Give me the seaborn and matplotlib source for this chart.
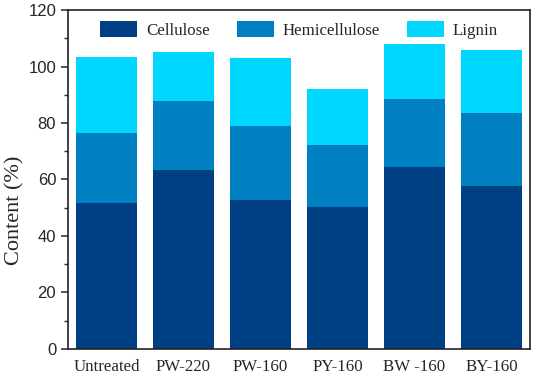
import numpy as np
import pandas as pd
import seaborn as sns
import matplotlib.pyplot as plt
from matplotlib.ticker import MultipleLocator

samples = ['Untreated', 'PW-220', 'PW-160', 'PY-160', 'BW -160', 'BY-160']
cellulose = [51.7, 63.4, 52.7, 50.4, 64.4, 57.8]
hemicellulose = [24.9, 24.3, 26.2, 21.7, 24.1, 25.8]
lignin = [26.7, 17.3, 24.2, 19.9, 19.4, 22.2]

components = ['Cellulose', 'Hemicellulose', 'Lignin']
colors = ['#013F84', '#0080C0', '#00D7FF']

df = pd.DataFrame({'sample': samples, 'Cellulose': cellulose,
                   'Hemicellulose': hemicellulose, 'Lignin': lignin})

sns.set_style('ticks')
plt.rcParams['font.family'] = ['Liberation Serif', 'DejaVu Serif']

fig = plt.figure(figsize=(5.33, 3.79), dpi=100)
ax = fig.add_axes([0.1276, 0.0792, 0.8668, 0.8944])

# stacked bars
bottom = np.zeros(len(samples))
for comp, col in zip(components, colors):
    sns.barplot(data=df, x='sample', y=comp, color=col, bottom=bottom,
                width=0.8, ax=ax, label=comp, saturation=1, linewidth=0)
    bottom = bottom + df[comp].values

ax.set_xlim(-0.5, 5.5)
ax.set_ylim(0, 120)
ax.yaxis.set_major_locator(MultipleLocator(20))
ax.yaxis.set_minor_locator(MultipleLocator(10))
ax.set_xlabel('')
ax.set_ylabel('Content (%)', fontsize=16)
ax.yaxis.set_label_coords(-0.095, 0.41)

for s in ax.spines.values():
    s.set_visible(True)
    s.set_linewidth(1.2)
    s.set_color('#222222')

ax.tick_params(axis='x', length=0, labelsize=12.2, pad=7)
ax.tick_params(axis='y', which='major', length=5, width=1.1, labelsize=12, direction='out')
ax.tick_params(axis='y', which='minor', length=3, width=1.0, direction='out')
for lab in ax.get_yticklabels():
    lab.set_fontfamily(['Liberation Sans', 'DejaVu Sans'])

ax.legend(loc='upper center', ncol=3, frameon=False, fontsize=12.2,
          handlelength=2.2, handleheight=1.1, handletextpad=0.5,
          columnspacing=1.6, bbox_to_anchor=(0.5, 1.0), borderaxespad=0.25)

fig.savefig('out.png', dpi=100)
